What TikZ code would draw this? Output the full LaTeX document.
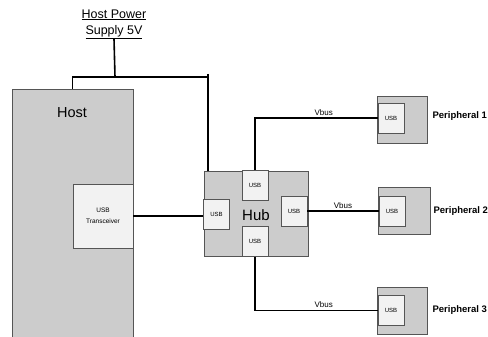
\documentclass[tikz,border=0pt]{standalone}
\usepackage{fontspec}
\setmainfont{Liberation Sans}
\usepackage{tikz}
\usetikzlibrary{positioning}
\usepackage{xcolor}
\definecolor{boxgray}{HTML}{CCCCCC}
\definecolor{portfill}{HTML}{F2F2F2}
\definecolor{edgegray}{HTML}{555555}
\tikzstyle{unit} = [rectangle, draw=edgegray, fill=boxgray, line width=0.8pt, inner sep=0pt]
\tikzstyle{port} = [rectangle, draw=edgegray, fill=portfill, line width=0.8pt, inner sep=0pt, minimum width=26pt, minimum height=30pt, font=\fontsize{6}{7}\selectfont]
\tikzstyle{wire} = [line width=1.6pt]
\tikzstyle{perlabel} = [font=\fontsize{9.5}{11}\selectfont\bfseries, inner sep=1pt]
\tikzstyle{vbuslabel} = [font=\fontsize{8}{9}\selectfont, inner sep=2pt]

\begin{document}
\begin{tikzpicture}[x=1pt, y=-1pt]
    \useasboundingbox (0,0) rectangle (488,337);

    % Power supply
    \node[align=center, inner sep=0pt, font=\fontsize{12.5}{16}\selectfont] (supply) at (114,24) {\underline{Host Power}\\\underline{Supply 5V}};
    \coordinate (split) at (115,77);
    \coordinate (tapend) at (208,74);

    % Host
    \node (host) [unit, minimum width=121pt, minimum height=256pt] at (72.5,217) {};
    \node[font=\fontsize{14.5}{16}\selectfont] (hostlabel) at (72,113) {Host};
    \node (xcvr) [port, minimum width=60pt, minimum height=64pt, align=center, font=\fontsize{6.5}{11}\selectfont] at (103,216) {USB\\Transceiver};

    % Hub
    \node (hub) [unit, minimum width=104pt, minimum height=85pt] at (256,213.5) {};
    \node[font=\fontsize{15}{17}\selectfont] (hublabel) at (256,215) {Hub};
    \node (hubT) [port] at (255,185.5) {USB};
    \node (hubL) [port] at (216.5,214) {USB};
    \node (hubR) [port] at (294,211) {USB};
    \node (hubB) [port] at (255,241.5) {USB};

    % Peripherals
    \node (p1) [unit, minimum width=50pt, minimum height=47pt] at (402,119.5) {};
    \node (usb1) [port, anchor=west] at ([xshift=1pt]p1.west |- 0,118) {USB};
    \node (per1) [perlabel, right=4pt of p1, yshift=3pt] {Peripheral 1};

    \node (p2) [unit, minimum width=52pt, minimum height=47pt] at (404,210.5) {};
    \node (usb2) [port, anchor=west] at ([xshift=1pt]p2.west |- 0,211) {USB};
    \node (per2) [perlabel, right=2pt of p2, yshift=-1pt] {Peripheral 2};

    \node (p3) [unit, minimum width=50pt, minimum height=47pt] at (402,310.5) {};
    \node (usb3) [port, anchor=west] at ([xshift=1pt]p3.west |- 0,310.5) {USB};
    \node (per3) [perlabel, right=4pt of p3] {Peripheral 3};

    % Wires
    \draw[wire] (supply.south) -- (split);
    \draw[wire] (host.north) |- (split) -- (split -| tapend);
    \draw[wire] (tapend) -- (tapend |- hub.north);
    \draw[wire] (xcvr.east) -- (xcvr.east -| hubL.west);
    \draw[wire] (hubT.north) |- node[vbuslabel, above, pos=0.78] (vbus1) {Vbus} (usb1.west);
    \draw[wire] (hubR.east |- usb2.west) -- node[vbuslabel, above] (vbus2) {Vbus} (usb2.west);
    \draw[wire] (hubB.south) |- node[vbuslabel, above, pos=0.78] (vbus3) {Vbus} (usb3.west);
\end{tikzpicture}
\end{document}
